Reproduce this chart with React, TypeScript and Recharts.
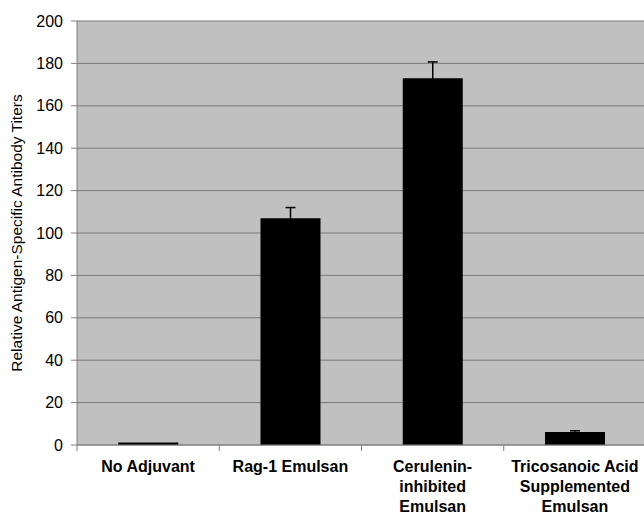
import React from "react";
import { BarChart, Bar, XAxis, YAxis, CartesianGrid, ErrorBar } from "recharts";

const categories = [
  "No Adjuvant",
  "Rag-1 Emulsan",
  "Cerulenin-\ninhibited\nEmulsan",
  "Tricosanoic Acid\nSupplemented\nEmulsan",
];
const titers = [1.2, 107, 173, 6.1];
const titerErrors = [0, 5, 7.7, 0.6];
const yTicks = [0, 20, 40, 60, 80, 100, 120, 140, 160, 180, 200];

const data = categories.map((name, i) => ({ name, value: titers[i], err: titerErrors[i] }));

const FONT = "'Liberation Sans', Arial, sans-serif";

const XTick = (props: any) => {
  const { x, y, payload } = props;
  const half = payload && payload.offset ? payload.offset : 71;
  const lines = String(payload.value).split("\n");
  return (
    <g>
      <line x1={x - half} y1={y} x2={x - half} y2={y + 6} stroke="#808080" />
      <text
        x={x}
        y={y + 27}
        textAnchor="middle"
        fontFamily={FONT}
        fontWeight="bold"
        fontSize={16}
        fill="#000"
      >
        {lines.map((l, i) => (
          <tspan key={i} x={x} dy={i === 0 ? 0 : 19.8}>
            {l}
          </tspan>
        ))}
      </text>
    </g>
  );
};

export default function App() {
  return (
    <div
      style={{
        position: "absolute",
        left: 0,
        top: 0,
        width: 644,
        height: 515,
        overflow: "hidden",
        background: "#fff",
      }}
    >
      <BarChart
        width={646}
        height={515}
        data={data}
        margin={{ top: 21, right: 0, bottom: 0, left: 0 }}
        barCategoryGap="29%"
      >
        <CartesianGrid vertical={false} stroke="#7a7a7a" fill="#c0c0c0" fillOpacity={1} />
        <XAxis
          dataKey="name"
          interval={0}
          height={70}
          axisLine={{ stroke: "#808080" }}
          tickLine={false}
          tickSize={0}
          tickMargin={0}
          tick={<XTick />}
        />
        <YAxis
          width={77}
          domain={[0, 200]}
          ticks={yTicks}
          interval={0}
          axisLine={{ stroke: "#808080" }}
          tickLine={{ stroke: "#808080" }}
          tickSize={6}
          tickMargin={8}
          tick={{ fontFamily: FONT, fontSize: 16, fill: "#000" }}
          label={{
            value: "Relative Antigen-Specific Antibody Titers",
            angle: -90,
            position: "insideLeft",
            dx: 11,
            dy: 0,
            style: { textAnchor: "middle", fontFamily: FONT, fontSize: 15.5, fill: "#000" },
          }}
        />
        <Bar dataKey="value" fill="#000" isAnimationActive={false}>
          <ErrorBar dataKey="err" width={5} stroke="#000" strokeWidth={1.5} direction="y" />
        </Bar>
      </BarChart>
    </div>
  );
}
